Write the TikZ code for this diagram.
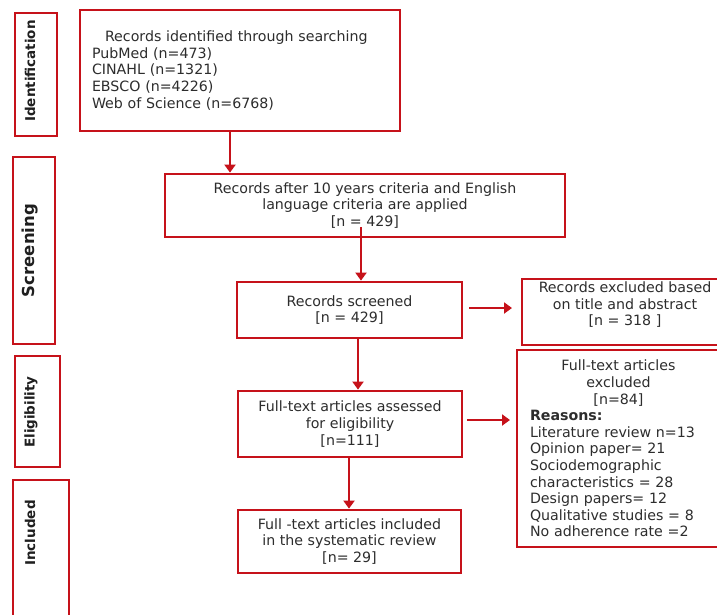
\documentclass[tikz,border=0pt]{standalone}
\usepackage{fontspec}
\setmainfont{DejaVu Sans}
\usetikzlibrary{arrows.meta}
\definecolor{boxred}{RGB}{198,18,26}
\definecolor{txt}{RGB}{45,45,45}
\begin{document}
\begin{tikzpicture}[x=1pt,y=-1pt,
  box/.style={draw=boxred, line width=2.8pt, inner sep=0pt, font=\fontsize{14.2}{16.6}\selectfont, text=txt, align=center},
  stage/.style={draw=boxred, line width=2.8pt, inner sep=0pt},
  stagelbl/.style={rotate=90, inner sep=0pt, font=\bfseries\fontsize{13.5}{16}\selectfont, text=black!88},
  arr/.style={draw=boxred, line width=2.8pt, -{Triangle[length=8pt,width=11pt]}}]
\clip (0,0) rectangle (717,614);
\fill[white] (0,0) rectangle (717,614);

% stage boxes
\node[stage, minimum width=42pt, minimum height=123pt] (sIdent) at (36,74.5) {};
\node[stage, minimum width=42pt, minimum height=187pt] (sScreen) at (34,250.5) {};
\node[stage, minimum width=45pt, minimum height=111pt] (sElig) at (37.5,411.5) {};
\node[stage, minimum width=56pt, minimum height=145pt] (sIncl) at (41,552.5) {};
\node[stagelbl] (lIdent) at (30,71) {Identification};
\node[stagelbl, font=\bfseries\fontsize{16.5}{18}\selectfont] (lScreen) at (30,250.5) {Screening};
\node[stagelbl] (lElig) at (31,412) {Eligibility};
\node[stagelbl] (lIncl) at (30,533) {Included};

% main boxes
\node[box, minimum width=320pt, minimum height=121pt, text width=296pt, align=left] (b1) at (240,70.5)
  {\hspace*{13pt}Records identified through searching\\PubMed (n=473)\\CINAHL (n=1321)\\EBSCO (n=4226)\\Web of Science (n=6768)};
\node[box, minimum width=400pt, minimum height=63pt] (b2) at (365,205.5)
  {Records after 10 years criteria and English\\language criteria are applied\\{[n = 429]}};
\node[box, minimum width=225pt, minimum height=56pt] (b3) at (349.5,310)
  {Records screened\\{[n = 429]}};
\node[box, minimum width=224pt, minimum height=66pt] (b4) at (350,424)
  {Full-text articles assessed\\for eligibility\\{[n=111]}};
\node[box, minimum width=223pt, minimum height=63pt] (b5) at (349.5,541.5)
  {Full -text articles included\\in the systematic review\\{[n= 29]}};
\node[box, minimum width=206pt, minimum height=66pt] (e1) at (625,312)
  {Records excluded based\\on title and abstract\\{[n = 318 ]}\\\mbox{}};
\node[box, minimum width=203pt, minimum height=197pt, text width=177pt] (e2) at (618.5,448.5)
  {\centering Full-text articles\\excluded\\{[n=84]}\par\raggedright
   \textbf{Reasons:}\\Literature review n=13\\Opinion paper= 21\\Sociodemographic\\characteristics = 28\\Design papers= 12\\Qualitative studies = 8\\No adherence rate =2\par};

% connectors
\coordinate (a1) at (230,0);
\coordinate (a2) at (361,227);
\coordinate (a3) at (358,0);
\coordinate (a4) at (349,0);
\coordinate (h1s) at (469,308);
\coordinate (h1e) at (512,308);
\coordinate (h2s) at (467,420);
\coordinate (h2e) at (510,420);
\draw[arr] (b1.south -| a1) -- (b2.north -| a1);
\draw[arr] (a2) -- (b3.north -| a2);
\draw[arr] (b3.south -| a3) -- (b4.north -| a3);
\draw[arr] (b4.south -| a4) -- (b5.north -| a4);
\draw[arr] (h1s) -- (h1e);
\draw[arr] (h2s) -- (h2e);
\end{tikzpicture}
\end{document}
